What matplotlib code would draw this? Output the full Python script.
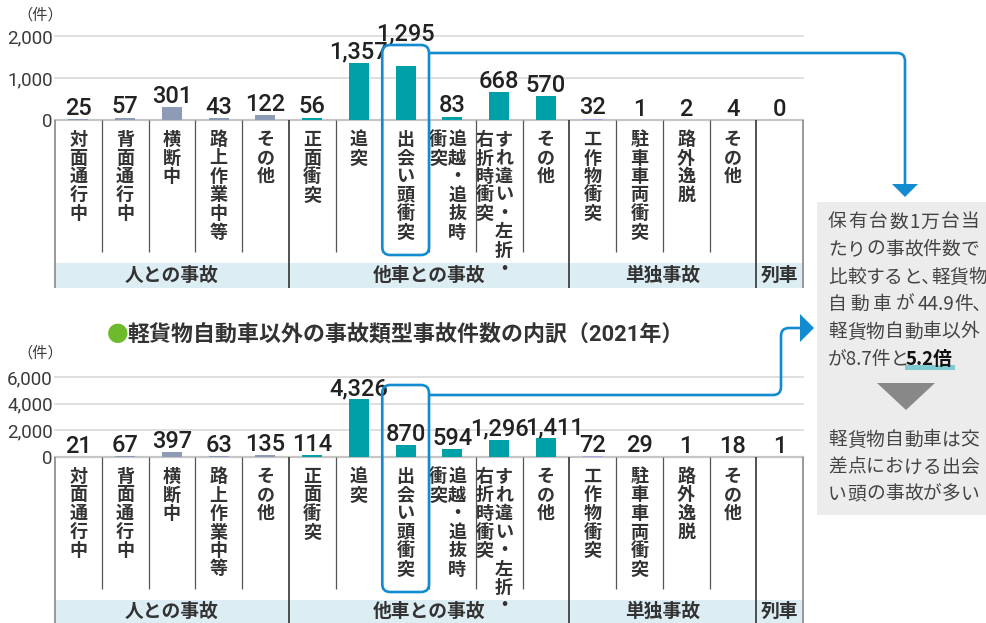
import re
import matplotlib.pyplot as plt
from matplotlib.patches import Rectangle, FancyBboxPatch, Polygon, PathPatch
from matplotlib.path import Path

plt.rcParams['font.family'] = ['Noto Sans CJK JP', 'DejaVu Sans']
NUM_FONT = ['Roboto', 'Noto Sans CJK JP']

W, H = 987, 623

# vertical labels, columns listed right to left
cat_cols = [['対面通行中'], ['背面通行中'], ['横断中'], ['路上作業中等'], ['その他'],
            ['正面衝突'], ['追突'], ['出会い頭衝突'], ['追越・追抜時', '衝突'],
            ['すれ違い・左折・', '右折時衝突'], ['その他'],
            ['工作物衝突'], ['駐車車両衝突'], ['路外逸脱'], ['その他'], []]
groups = ['人との事故', '他車との事故', '単独事故', '列車']
group_sizes = [5, 6, 4, 1]
kei_counts = [25, 57, 301, 43, 122, 56, 1357, 1295, 83, 668, 570, 32, 1, 2, 4, 0]
other_counts = [21, 67, 397, 63, 135, 114, 4326, 870, 594, 1296, 1411, 72, 29, 1, 18, 1]
top_ticks = [0, 1000, 2000]
bottom_ticks = [0, 2000, 4000, 6000]
title2 = '軽貨物自動車以外の事故類型事故件数の内訳（2021年）'
# half-width comma where the line is set tight
note1 = ['保有台数1万台当', 'たりの事故件数で', '比較すると､軽貨物', '自動車が44.9件､', '軽貨物自動車以外']
note1_last = ['が8.7件と', '5.2倍']
note2 = ['軽貨物自動車は交', '差点における出会', 'い頭の事故が多い']

group_colors = ['#8e9bb4', '#00a0a8', '#a3a5db', '#a3a5db']
HL = 7  # highlighted column

fig = plt.figure(figsize=(W / 100, H / 100), dpi=100)


def fax(x0, y0, x1, y1):
    return fig.add_axes([x0 / W, 1 - y1 / H, (x1 - x0) / W, (y1 - y0) / H])


def draw_chart(top, zero, ticks, counts, sep_end, band_top, bottom, floor=None, dx=None):
    n = len(counts)
    colors = []
    for g, s in enumerate(group_sizes):
        colors += [group_colors[g]] * s
    ax = fax(55, top, 803, zero)
    ax.bar(range(n), counts, width=0.43, color=colors, zorder=2)
    ax.set_xlim(-0.5, n - 0.5)
    ax.set_ylim(0, ticks[-1])
    for t in ticks[1:]:
        ax.axhline(t, color='#d9d9d9', lw=1.2, zorder=0, clip_on=False)
    ax.axhline(0, color='#c6c6c6', lw=1.6, zorder=1, clip_on=False)
    ax.set_yticks(ticks)
    ax.set_yticklabels([f'{t:,}' for t in ticks], fontsize=13.5, color='#3a3a3a', family=NUM_FONT)
    ax.tick_params(length=0, pad=1.5)
    ax.set_xticks([])
    for s in ax.spines.values():
        s.set_visible(False)
    ax.patch.set_alpha(0)
    for i, v in enumerate(counts):
        y = v
        if floor and i in floor:
            y = max(v, floor[i])
        ox = (dx or {}).get(i, 0)
        ax.annotate(f'{v:,}', (i, y), xytext=(ox, 3), textcoords='offset points',
                    ha='center', va='baseline', fontsize=17, color='#222222',
                    family=NUM_FONT, fontweight='medium', annotation_clip=False)

    tab = fax(55, zero, 803, bottom)
    tab.set_xlim(-0.5, n - 0.5)
    tab.set_ylim(bottom, zero)
    tab.axis('off')
    tab.add_patch(Rectangle((-0.5, band_top), n, bottom - band_top, color='#dcedf3', lw=0))
    bounds = [-0.5]
    for s in group_sizes:
        bounds.append(bounds[-1] + s)
    for i in range(n - 1):
        if i + 0.5 not in bounds:
            tab.vlines(i + 0.5, zero, sep_end, color='#555555', lw=0.9)
    for b in bounds:
        c = '#888888' if b in (bounds[0], bounds[-1]) else '#333333'
        tab.vlines(b, zero, bottom, color=c, lw=1.2, clip_on=False)
    for i, cols in enumerate(cat_cols):
        k = len(cols)
        for j, col in enumerate(cols):
            x = i + (k - 1) / 2 * 0.203 - j * 0.406
            for m, ch in enumerate(col):
                tab.text(x, zero + 19.5 + m * 18.5, ch, ha='center', va='center',
                         fontsize=13, fontweight='bold', color='#333333')
    start = 0
    for g, s in zip(groups, group_sizes):
        tab.text(start + (s - 1) / 2, (band_top + min(bottom, band_top + 25)) / 2, g,
                 ha='center', va='center', fontsize=13.5, fontweight='bold', color='#333333')
        start += s
    return ax


draw_chart(36, 120, top_ticks, kei_counts, 252, 263, 288, floor={HL: 1790})
draw_chart(377, 457, bottom_ticks, other_counts, 589, 600, 623, dx={10: 6})

# overlay in pixel coordinates
ov = fig.add_axes([0, 0, 1, 1], zorder=5)
ov.set_xlim(0, W)
ov.set_ylim(H, 0)
ov.axis('off')
ov.patch.set_alpha(0)

blue = '#138bd0'
colw = (803 - 55) / 16
x0 = 55 + HL * colw
x1 = x0 + colw
for yt, yb in [(45, 255), (385, 592)]:
    ov.add_patch(FancyBboxPatch((x0, yt), colw, yb - yt, boxstyle='round,pad=0,rounding_size=8',
                                fill=False, ec=blue, lw=1.9))

r = 8
p1 = Path([(x1, 53), (905 - r, 53), (905, 53), (905, 53 + r), (905, 185)],
          [Path.MOVETO, Path.LINETO, Path.CURVE3, Path.CURVE3, Path.LINETO])
ov.add_patch(PathPatch(p1, fill=False, ec=blue, lw=1.9))
ov.add_patch(Polygon([(892, 184), (918, 184), (905, 197)], closed=True, fc=blue, ec='none'))

p2 = Path([(x1, 395), (781 - r, 395), (781, 395), (781, 395 - r), (781, 328 + r),
           (781, 328), (781 + r, 328), (801, 328)],
          [Path.MOVETO, Path.LINETO, Path.CURVE3, Path.CURVE3, Path.LINETO,
           Path.CURVE3, Path.CURVE3, Path.LINETO])
ov.add_patch(PathPatch(p2, fill=False, ec=blue, lw=1.9))
ov.add_patch(Polygon([(800, 314), (800, 342), (814, 328)], closed=True, fc=blue, ec='none'))

# note box, lines spread to the box width like justified text
EM = 18.75


def tok_w(t):
    w = 0
    if t.endswith('､'):
        w += 0.5 * EM
        t = t[:-1]
    if re.fullmatch(r'[0-9.]+', t):
        return w + sum(0.25 if c == '.' else 0.5 for c in t) * EM
    return w + EM


def justified(line, y, left=828, right=978, **kw):
    toks = re.findall(r'[0-9.]+､?|.､?', line)
    last = toks[-1]
    ink = tok_w(last) - (0.25 * EM if last.endswith('､') else 0.08 * EM)
    gap = (right - ink - left - sum(tok_w(t) for t in toks[:-1])) / (len(toks) - 1)
    gap = max(gap, 0)
    x = left
    for t in toks:
        ov.text(x, y, t, ha='left', va='center', **kw)
        x += tok_w(t) + gap


ov.add_patch(Rectangle((817, 202), W - 817, 313, fc='#ececec', ec='none'))
style = dict(fontsize=13.5, color='#444444')
for t, y in zip(note1, [222, 249.5, 277, 304.5, 332]):
    justified(t, y, **style)
ov.text(828, 359.5, note1_last[0], ha='left', va='center', **style)
ov.add_patch(Rectangle((905, 365), 50, 5, fc='#80cbd1', ec='none'))
ov.text(906, 359.5, note1_last[1], ha='left', va='center', fontsize=13.5,
        fontweight='bold', color='#111111')
ov.add_patch(Polygon([(877, 383), (935, 383), (906, 410)], closed=True, fc='#888888', ec='none'))
for t, y in zip(note2, [440, 467, 494]):
    justified(t, y, **style)

# titles and units
ov.text(40, 15, '（件）', ha='center', va='center', fontsize=11, color='#3a3a3a')
ov.text(40, 353, '（件）', ha='center', va='center', fontsize=11, color='#3a3a3a')
ov.text(107, 335, '●', ha='left', va='center', fontsize=15.5, color='#6dbb2d')
ov.text(127, 335, title2, ha='left', va='center', fontsize=15.8, fontweight='bold',
        color='#333333', family=NUM_FONT)

fig.savefig('out.png', dpi=100)
